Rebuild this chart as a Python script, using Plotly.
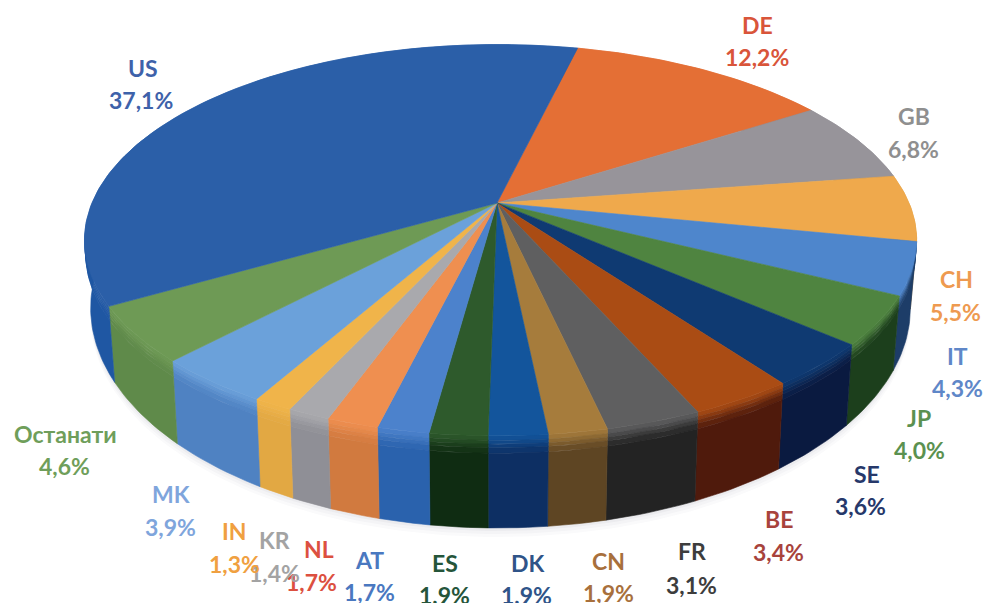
import math
import plotly.graph_objects as go

categories = ["DE", "GB", "CH", "IT", "JP", "SE", "BE", "FR", "CN", "DK", "ES", "AT", "NL", "KR", "IN", "MK", "Останати", "US"]
values = [12.2, 6.8, 5.5, 4.3, 4.0, 3.6, 3.4, 3.1, 1.9, 1.9, 1.9, 1.7, 1.7, 1.4, 1.3, 3.9, 4.6, 37.1]
percent_labels = ["12,2%", "6,8%", "5,5%", "4,3%", "4,0%", "3,6%", "3,4%", "3,1%", "1,9%", "1,9%", "1,9%", "1,7%", "1,7%", "1,4%", "1,3%", "3,9%", "4,6%", "37,1%"]

top_colors = ["#e46f35", "#97949a", "#efa94c", "#4e86cc", "#4f8440", "#0f3a72", "#aa4c14", "#5f5f60", "#a67c3c",
              "#13559c", "#2e5a2c", "#4c82cc", "#ef8f50", "#a9a9ad", "#f0b44a", "#6ba1da", "#6e9a55", "#2b5fa8"]
side_colors = ["#b0552a", "#6e6c70", "#7d5a26", "#1d3d68", "#1c3f1c", "#0a1a40", "#4f1a0c", "#232323", "#5e4523",
               "#0d2f63", "#0f2c12", "#2a62ad", "#d17a3f", "#8f8f96", "#e2a843", "#4f82c2", "#5f8a4a", "#1f57a3"]
label_colors = ["#d9553a", "#8f8f8f", "#ee9a50", "#5f87c8", "#5b9150", "#26386a", "#a8433c", "#3d3d3d", "#a8703c",
                "#2f5488", "#25553a", "#4a78c0", "#dc5040", "#a3a3a3", "#f0a040", "#7fa5dc", "#6f9e5a", "#3e62aa"]
# label anchor centres in pixels: name line, value line
name_pos = [(757, 25), (914, 116), (956, 279), (957, 356), (919, 418), (867, 474), (779, 519), (692, 551), (608, 561),
            (527, 563), (445, 563), (369, 560), (319, 549), (274, 540), (234, 531), (171, 494), (65, 434), (143, 68)]
value_pos = [(757, 57), (913, 149), (955, 312), (957, 388), (919, 450), (860, 506), (778, 552), (691, 585), (608, 593),
             (526, 595), (444, 595), (369, 592), (311, 582), (274, 573), (234, 564), (170, 527), (64, 466), (141, 100)]

CX, CY, A_LEFT, A_RIGHT, B, K = 497.0, 203.0, 405.0, 412.0, 188.6, 0.19
START = 13.4


def top_point(deg, r=1.0):
    t = math.radians(deg)
    u, v = r * math.sin(t), r * math.cos(t)
    w = 1 + K * v
    return CX + (A_LEFT if u < 0 else A_RIGHT) * u / w, CY - B * v / w


def wall_point(deg, frac):
    x, y = top_point(deg)
    xb = CX + (x - CX) * 0.985
    yb = 266 + (y - CY) * 1.125
    return x + (xb - x) * frac, y + (yb - y) * frac


def mix(c1, c2, f):
    a = [int(c1[i:i + 2], 16) for i in (1, 3, 5)]
    b = [int(c2[i:i + 2], 16) for i in (1, 3, 5)]
    return "rgb(%d,%d,%d)" % tuple(round(p + (q - p) * f) for p, q in zip(a, b))


def arc(a0, a1, fn):
    n = max(2, int(abs(a1 - a0) / 1.0))
    return [fn(a0 + (a1 - a0) * i / n) for i in range(n + 1)]


total = sum(values)
edges = [START]
for val in values:
    edges.append(edges[-1] + val / total * 360)

fig = go.Figure()


def poly(pts, color, name="", line=0.6):
    fig.add_trace(go.Scatter(x=[p[0] for p in pts] + [pts[0][0]], y=[p[1] for p in pts] + [pts[0][1]],
                             mode="lines", fill="toself", fillcolor=color,
                             line=dict(color=color, width=line), hoverinfo="text" if name else "skip",
                             text=name, showlegend=False))


# soft ground shadow
for off, alpha in ((9, 0.025), (6, 0.03), (3, 0.04)):
    pts = arc(0, 360, lambda d: (wall_point(d, 1)[0], wall_point(d, 1)[1] + off))
    poly(pts, "rgba(60,60,80,%.3f)" % alpha, line=0)

# walls
bands = [(0, 0.05, 0.12), (0.05, 0.09, 0.35), (0.09, 0.13, 0.6), (0.13, 0.19, 0.85), (0.19, 1.0, 1.0)]
for i in range(len(values)):
    for f0, f1, m in bands:
        upper = arc(edges[i], edges[i + 1], lambda d: wall_point(d, f0))
        lower = arc(edges[i], edges[i + 1], lambda d: wall_point(d, f1))
        poly(upper + lower[::-1], mix(top_colors[i], side_colors[i], m))

# top faces
for i, cat in enumerate(categories):
    pts = [(CX, CY)] + arc(edges[i], edges[i + 1], top_point)
    poly(pts, top_colors[i], "%s %s" % (cat, percent_labels[i]))

anns = []
for i, cat in enumerate(categories):
    for txt, pos in ((cat, name_pos[i]), (percent_labels[i], value_pos[i])):
        anns.append(dict(x=pos[0], y=pos[1], text=txt, showarrow=False, xanchor="center", yanchor="middle",
                         font=dict(family="Lato", size=23, color=label_colors[i], weight=700)))

fig.update_layout(
    width=986, height=603, margin=dict(l=0, r=0, t=0, b=0),
    paper_bgcolor="white", plot_bgcolor="white", showlegend=False, annotations=anns,
    xaxis=dict(range=[0, 986], visible=False, fixedrange=True),
    yaxis=dict(range=[603, 0], visible=False, fixedrange=True),
)
fig.write_html("out.html", config=dict(displayModeBar=False),
               post_script="document.body.style.margin='0';document.body.style.overflow='hidden';")
